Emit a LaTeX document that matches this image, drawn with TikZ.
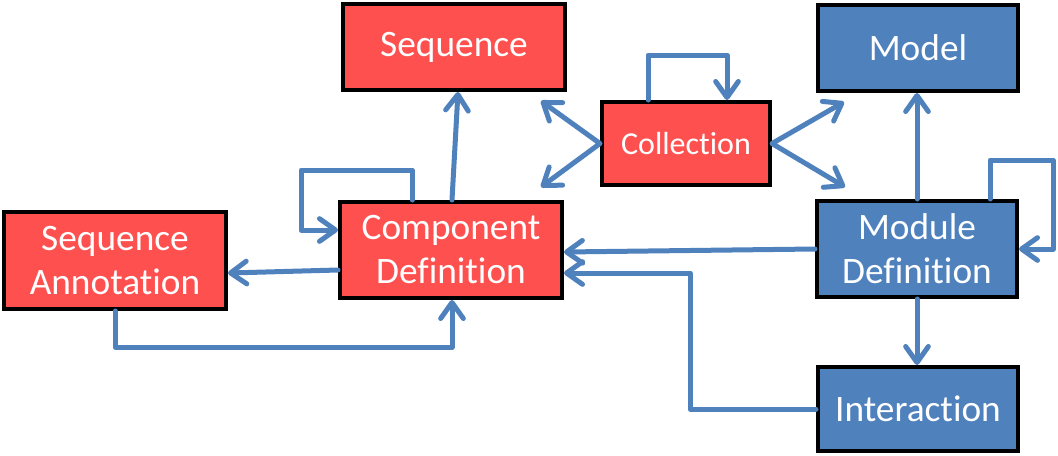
\documentclass[tikz,border=0pt]{standalone}
\usepackage{fontspec}
\setmainfont{Carlito}[Ligatures=NoCommon]
\usetikzlibrary{arrows.meta,calc}
\definecolor{boxred}{HTML}{FF5050}
\definecolor{boxblue}{HTML}{4F81BD}
\definecolor{linkblue}{HTML}{4F81BD}
\tikzset{
  box/.style={draw=black, line width=3pt, text=white, align=center,
    font=\fontsize{28}{33}\selectfont, inner sep=0pt},
  redbox/.style={box, fill=boxred},
  bluebox/.style={box, fill=boxblue},
  link/.style={draw=linkblue, line width=3.75pt, line join=round, line cap=round,
    -{Straight Barb[length=12pt,width=17pt,line cap=round,line join=round]}},
  dlink/.style={link, {Straight Barb[length=12pt,width=17pt,line cap=round,line join=round]}-{Straight Barb[length=12pt,width=17pt,line cap=round,line join=round]}},
}
\begin{document}
\begin{tikzpicture}[x=0.75pt,y=-0.75pt]
\useasboundingbox (0,0) rectangle (1058,455);

\node[redbox, minimum width=166.5pt, minimum height=64.5pt] (seq) at (454,47) {\raisebox{-1.5pt}{Sequence}};
\node[bluebox, minimum width=150pt, minimum height=64.5pt] (model) at (918,48) {Model};
\node[redbox, minimum width=126pt, minimum height=62.25pt, font=\fontsize{24}{28}\selectfont] (col) at (686,143.5) {Collection};
\node[redbox, minimum width=166.5pt, minimum height=72pt] (cd) at (451,250) {Component\\Definition};
\node[redbox, minimum width=166.5pt, minimum height=72.75pt] (sa) at (115,260.5) {Sequence\\Annotation};
\node[bluebox, minimum width=150pt, minimum height=72pt] (md) at (917,249) {Module\\Definition};
\node[bluebox, minimum width=150pt, minimum height=63pt] (int) at (918,409) {Interaction};

% Component Definition self-loop
\draw[link] ([xshift=-29.25pt]cd.north) |- (301,170) |- ([yshift=15pt]cd.west);
% CD -> Sequence
\draw[link] ([xshift=0.75pt]cd.north) -- ([xshift=3pt]seq.south);
% Collection self-loop
\draw[link] ([xshift=-28.5pt]col.north) |- (727,55) -- ([xshift=30.75pt]col.north);
% Collection -> Sequence / CD
\draw[dlink] ($(seq.south east)+(-26,9)$) -- (col.west) -- ($(cd.north east)+(-23,-13)$);
% Collection -> Model / MD
\draw[dlink] ($(model.south west)+(28,9)$) -- (col.east) -- ($(md.north west)+(30,-12)$);
% MD -> Model
\draw[link] (md.north) -- (md.north |- model.south);
% MD self-loop
\draw[link] ([xshift=54.75pt]md.north) |- (1053,160) |- (md.east);
% MD -> CD
\draw[link] (md.west) -- ([yshift=-1.5pt]cd.east);
% Interaction -> CD
\draw[link] (int.west) -| (690,273) -- ([yshift=-17.25pt]cd.east);
% MD -> Interaction
\draw[link] (md.south) -- (md.south |- int.north);
% CD -> SA
\draw[link] ([yshift=-15pt]cd.west) -- ([yshift=-9.4pt]sa.east);
% SA -> CD
\draw[link] (sa.south) |- (452,347) -- ([xshift=0.75pt]cd.south);
\end{tikzpicture}
\end{document}
